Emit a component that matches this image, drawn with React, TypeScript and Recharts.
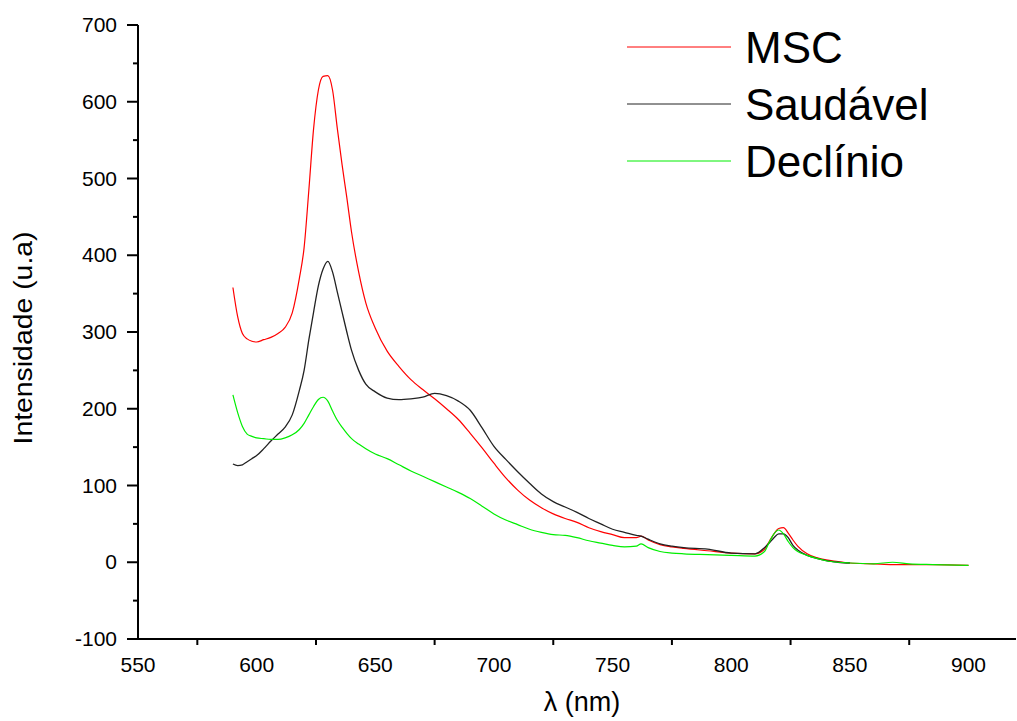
import React from 'react';
import { LineChart, Line, XAxis, YAxis, Legend } from 'recharts';

// wavelength grid (nm) shared by the three spectra
const wavelengths = [
  590, 592, 594, 596, 598, 600, 603, 606, 609, 612, 615, 618, 620, 622, 624, 626, 628, 630,
  632, 634, 636, 638, 640, 643, 646, 650, 655, 660, 665, 670, 675, 680, 685, 690, 695, 700,
  705, 710, 715, 720, 725, 730, 735, 740, 745, 750, 755, 760, 762, 765, 770, 775, 780, 790,
  800, 810, 814, 816, 818, 820, 822, 824, 826, 828, 832, 836, 840, 845, 850, 860, 868, 875,
  885, 900,
];

const msc = [
  358, 320, 298, 291, 288, 287, 290, 293, 298, 306, 325, 370, 410, 485, 565, 615, 633, 634,
  615, 565, 518, 475, 430, 378, 338, 305, 275, 255, 238, 225, 213, 200, 186, 168, 149, 129,
  110, 94, 81, 71, 63, 57, 52, 45, 40, 36, 32, 32, 34, 29, 23, 20, 18, 15,
  12, 11, 17, 27, 37, 44, 45, 38, 29, 21, 11, 6, 3, 1, -1, -2, -3, -3,
  -3, -4,
];

// Saudável stops at 850 nm
const saudavel = [
  128, 126, 127, 131, 135, 139, 148, 158, 167, 176, 192, 224, 250, 290, 326, 360, 382, 392,
  378, 352, 326, 300, 276, 250, 232, 222, 214, 212, 213, 215, 220, 217, 210, 198, 175, 151,
  134, 118, 103, 89, 79, 72, 65, 57, 50, 43, 39, 35, 34, 30, 24, 21, 19, 17,
  12, 11, 19, 25, 32, 37, 37, 32, 22, 16, 9, 5, 2, 0, -1,
];

const declinio = [
  218, 195, 177, 167, 164, 162, 161, 160, 160, 162, 166, 173, 181, 192, 203, 212, 215, 210,
  197, 185, 176, 168, 161, 154, 148, 141, 135, 127, 119, 112, 105, 98, 91, 83, 73, 63,
  55, 49, 43, 39, 36, 35, 32, 28, 25, 22, 20, 21, 24, 19, 14, 12, 11, 10,
  9, 8, 14, 26, 37, 42, 37, 27, 19, 14, 9, 5, 2, 0, -1, -2, 0, -2,
  -3, -4,
];

const seriesOrder = ['MSC', 'Saudável', 'Declínio'];
const xTicks = [550, 575, 600, 625, 650, 675, 700, 725, 750, 775, 800, 825, 850, 875, 900];
const yTicks = [-100, -50, 0, 50, 100, 150, 200, 250, 300, 350, 400, 450, 500, 550, 600, 650, 700];

const data = wavelengths.map((nm, i) => ({
  nm,
  msc: msc[i],
  saudavel: i < saudavel.length ? saudavel[i] : null,
  declinio: declinio[i],
}));

const FONT = '"Liberation Sans", Arial, Helvetica, sans-serif';

const XTick = (props: any) => {
  const { x, y, payload } = props;
  const v = payload.value;
  if (v % 50 === 0) {
    return (
      <text x={x} y={y + 33} textAnchor="middle" fontSize={21} fontFamily={FONT} fill="#000">
        {v}
      </text>
    );
  }
  return <line x1={x} x2={x} y1={y} y2={y + 6} stroke="#000" strokeWidth={2} />;
};

const YTick = (props: any) => {
  const { x, y, payload } = props;
  const v = payload.value;
  if (v % 100 === 0) {
    return (
      <g>
        <line x1={x - 11} x2={x} y1={y} y2={y} stroke="#000" strokeWidth={2} />
        <text x={x - 21} y={y + 7} textAnchor="end" fontSize={21} fontFamily={FONT} fill="#000">
          {v}
        </text>
      </g>
    );
  }
  return <line x1={x - 5} x2={x} y1={y} y2={y} stroke="#000" strokeWidth={2} />;
};

const YLabel = () => (
  <text
    x={0}
    y={0}
    transform="translate(32, 338) rotate(-90)"
    textAnchor="middle"
    fontSize={25}
    fontFamily={FONT}
    fill="#000"
    textLength={213}
    lengthAdjust="spacingAndGlyphs"
  >
    Intensidade (u.a)
  </text>
);

const renderLegend = (props: any) => {
  const items = [...(props.payload || [])].sort(
    (a: any, b: any) => seriesOrder.indexOf(a.value) - seriesOrder.indexOf(b.value),
  );
  return (
    <svg
      width={340}
      height={180}
      style={{ position: 'absolute', left: 620, top: 10, overflow: 'visible' }}
    >
      {items.map((it: any, i: number) => (
        <g key={it.value}>
          <line x1={7} x2={111} y1={37 + i * 57} y2={37 + i * 57} stroke={it.color} strokeWidth={1} />
          <text x={125} y={53 + i * 57} fontSize={44} fontFamily={FONT} fill="#000">
            {it.value}
          </text>
        </g>
      ))}
    </svg>
  );
};

export default function App() {
  return (
    <div style={{ position: 'absolute', left: 0, top: 0, width: 1017, height: 721, background: '#fff' }}>
      <LineChart width={1017} height={721} data={data} margin={{ top: 25, right: 1, bottom: 22, left: 0 }}>
        <XAxis
          dataKey="nm"
          type="number"
          domain={[550, 920]}
          ticks={xTicks}
          interval={0}
          allowDataOverflow
          height={60}
          tickSize={0}
          tickMargin={0}
          tickLine={false}
          axisLine={{ stroke: '#000', strokeWidth: 2 }}
          tick={XTick}
          label={{
            value: 'λ (nm)',
            position: 'insideBottom',
            offset: 0,
            dx: 5,
            dy: 12,
            fontSize: 27,
            fontFamily: FONT,
            fill: '#000',
          }}
        />
        <YAxis
          type="number"
          domain={[-100, 700]}
          ticks={yTicks}
          interval={0}
          allowDataOverflow
          width={138}
          tickSize={0}
          tickMargin={0}
          tickLine={false}
          axisLine={{ stroke: '#000', strokeWidth: 2 }}
          tick={YTick}
          label={<YLabel />}
        />
        <Legend
          content={renderLegend}
          itemSorter={null as any}
          wrapperStyle={{ position: 'absolute', left: 0, top: 0, width: 0, height: 0 }}
        />
        <Line
          name="MSC"
          dataKey="msc"
          type="monotone"
          stroke="#ff0000"
          strokeWidth={1.2}
          dot={false}
          isAnimationActive={false}
        />
        <Line
          name="Saudável"
          dataKey="saudavel"
          type="monotone"
          stroke="#222222"
          strokeWidth={1.3}
          dot={false}
          isAnimationActive={false}
        />
        <Line
          name="Declínio"
          dataKey="declinio"
          type="monotone"
          stroke="#00ee00"
          strokeWidth={1.2}
          dot={false}
          isAnimationActive={false}
        />
      </LineChart>
    </div>
  );
}
